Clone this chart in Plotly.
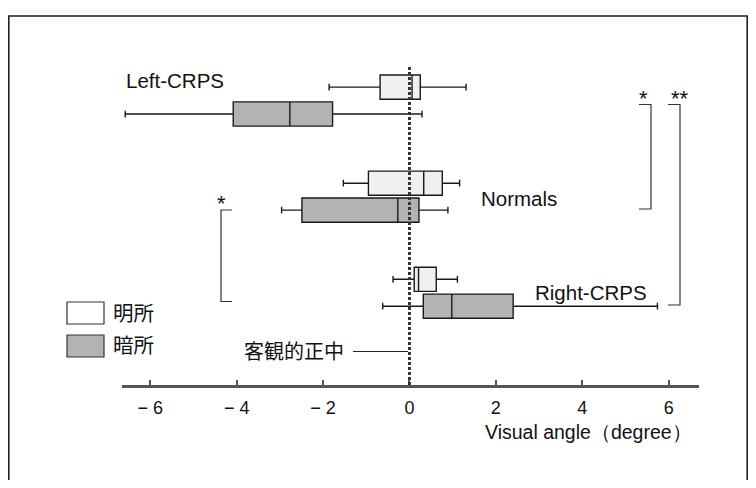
import plotly.graph_objects as go

# The page body has an 8px default margin, so the figure is 740x472 and
# reference pixel positions are shifted by 8px.
OFF = 8
W, H = 756 - 2 * OFF, 488 - 2 * OFF

# ---- data ----
groups = ["Left-CRPS", "Normals", "Right-CRPS"]
light_name = "明所"
dark_name = "暗所"
light_lower = [-1.86, -1.53, -0.38]
light_q1 = [-0.68, -0.95, 0.11]
light_median = [0.06, 0.33, 0.21]
light_q3 = [0.25, 0.76, 0.62]
light_upper = [1.31, 1.16, 1.11]
dark_lower = [-6.58, -2.96, -0.62]
dark_q1 = [-4.08, -2.49, 0.32]
dark_median = [-2.77, -0.27, 0.98]
dark_q3 = [-1.78, 0.22, 2.40]
dark_upper = [0.29, 0.89, 5.74]
tick_vals = [-6, -4, -2, 0, 2, 4, 6]
tick_text = ["− 6", "− 4", "− 2", "0", "2", "4", "6"]
x_title = "Visual angle（degree）"
ref_label = "客観的正中"


def px(x):
    return (x - OFF) / W


def py(y):
    return 1 - (y - OFF) / H


LATIN = "Liberation Sans, Arial, Helvetica, sans-serif"
CJK = "Noto Sans CJK JP, sans-serif"

fig = go.Figure()
fig.add_trace(go.Box(
    name=light_name, y=groups, orientation="h",
    lowerfence=light_lower, q1=light_q1, median=light_median,
    q3=light_q3, upperfence=light_upper,
    fillcolor="#f0f0f0", line=dict(color="#1a1a1a", width=1.4),
    whiskerwidth=0.28, boxpoints=False, showlegend=False,
))
fig.add_trace(go.Box(
    name=dark_name, y=groups, orientation="h",
    lowerfence=dark_lower, q1=dark_q1, median=dark_median,
    q3=dark_q3, upperfence=dark_upper,
    fillcolor="#b3b3b3", line=dict(color="#1a1a1a", width=1.4),
    whiskerwidth=0.28, boxpoints=False, showlegend=False,
))

shapes = []
# zero reference (dashed)
shapes.append(dict(type="line", xref="x", yref="paper", x0=0, x1=0,
                   y0=py(385), y1=py(65),
                   line=dict(color="#333", width=3, dash="3px,2px")))


def bracket(pts):
    d = "M " + " L ".join(f"{px(a):.5f},{py(b):.5f}" for a, b in pts)
    return dict(type="path", xref="paper", yref="paper", path=d,
                line=dict(color="#333", width=1.2))


shapes.append(bracket([(639, 104.5), (651, 104.5), (651, 209), (639, 209)]))
shapes.append(bracket([(668, 104.5), (680, 104.5), (680, 305), (668, 305)]))
shapes.append(bracket([(232, 210), (221, 210), (221, 301.5), (232, 301.5)]))
# legend swatches
shapes.append(dict(type="rect", xref="paper", yref="paper",
                   x0=px(67), x1=px(104), y0=py(324), y1=py(302),
                   fillcolor="#ffffff", line=dict(color="#333", width=1.2)))
shapes.append(dict(type="rect", xref="paper", yref="paper",
                   x0=px(67), x1=px(104), y0=py(357), y1=py(335),
                   fillcolor="#b3b3b3", line=dict(color="#333", width=1.2)))
# pointer line to the reference
shapes.append(dict(type="line", xref="paper", yref="paper",
                   x0=px(353), x1=px(408), y0=py(351.5), y1=py(351.5),
                   line=dict(color="#222", width=1.2)))
# outer frame
shapes.append(dict(type="path", xref="paper", yref="paper",
                   path=(f"M {px(8.8)},{py(500)} L {px(8.8)},{py(16)} "
                         f"L {px(747.2)},{py(16)} L {px(747.2)},{py(500)}"),
                   line=dict(color="#222", width=1.6)))

ann = []


def txt(s, x, y, size=20, font=LATIN, xanchor="left"):
    ann.append(dict(text=s, x=px(x), y=py(y), xref="paper", yref="paper",
                    xanchor=xanchor, yanchor="middle", showarrow=False,
                    font=dict(family=font, size=size, color="#111")))


txt(groups[0], 124, 80.5, size=20.5)
txt(groups[1], 479, 198, size=20.5)
txt(groups[2], 533, 292, size=20.5)
txt(light_name, 111, 312, size=20.5, font=CJK)
txt(dark_name, 111, 344, size=20.5, font=CJK)
txt(ref_label, 242, 350, size=20, font=CJK)
txt(x_title, 588, 432, size=19.5, xanchor="center")
txt("*", 643, 98.5, size=22, xanchor="center")
txt("**", 680, 98.5, size=22, xanchor="center")
txt("*", 221, 203.5, size=22, xanchor="center")

fig.update_layout(
    width=W, height=H, margin=dict(l=0, r=0, t=0, b=0),
    paper_bgcolor="white", plot_bgcolor="rgba(0,0,0,0)",
    boxmode="group", boxgap=0.44, boxgroupgap=0.1,
    shapes=shapes, annotations=ann, showlegend=False,
    xaxis=dict(range=[-6.65, 6.7], domain=[px(122.2), px(698.9)],
               showline=True, linecolor="#555", linewidth=3,
               ticks="inside", ticklen=5, tickwidth=2, tickcolor="#555",
               tickvals=tick_vals, ticktext=tick_text,
               tickfont=dict(family=LATIN, size=18, color="#111"),
               ticklabelstandoff=4,
               showgrid=False, zeroline=False, fixedrange=True),
    yaxis=dict(type="category", categoryarray=groups,
               range=[2.96, -0.88], domain=[py(385), py(16)],
               visible=False, showgrid=False, zeroline=False),
)

fig.write_html("out.html")
